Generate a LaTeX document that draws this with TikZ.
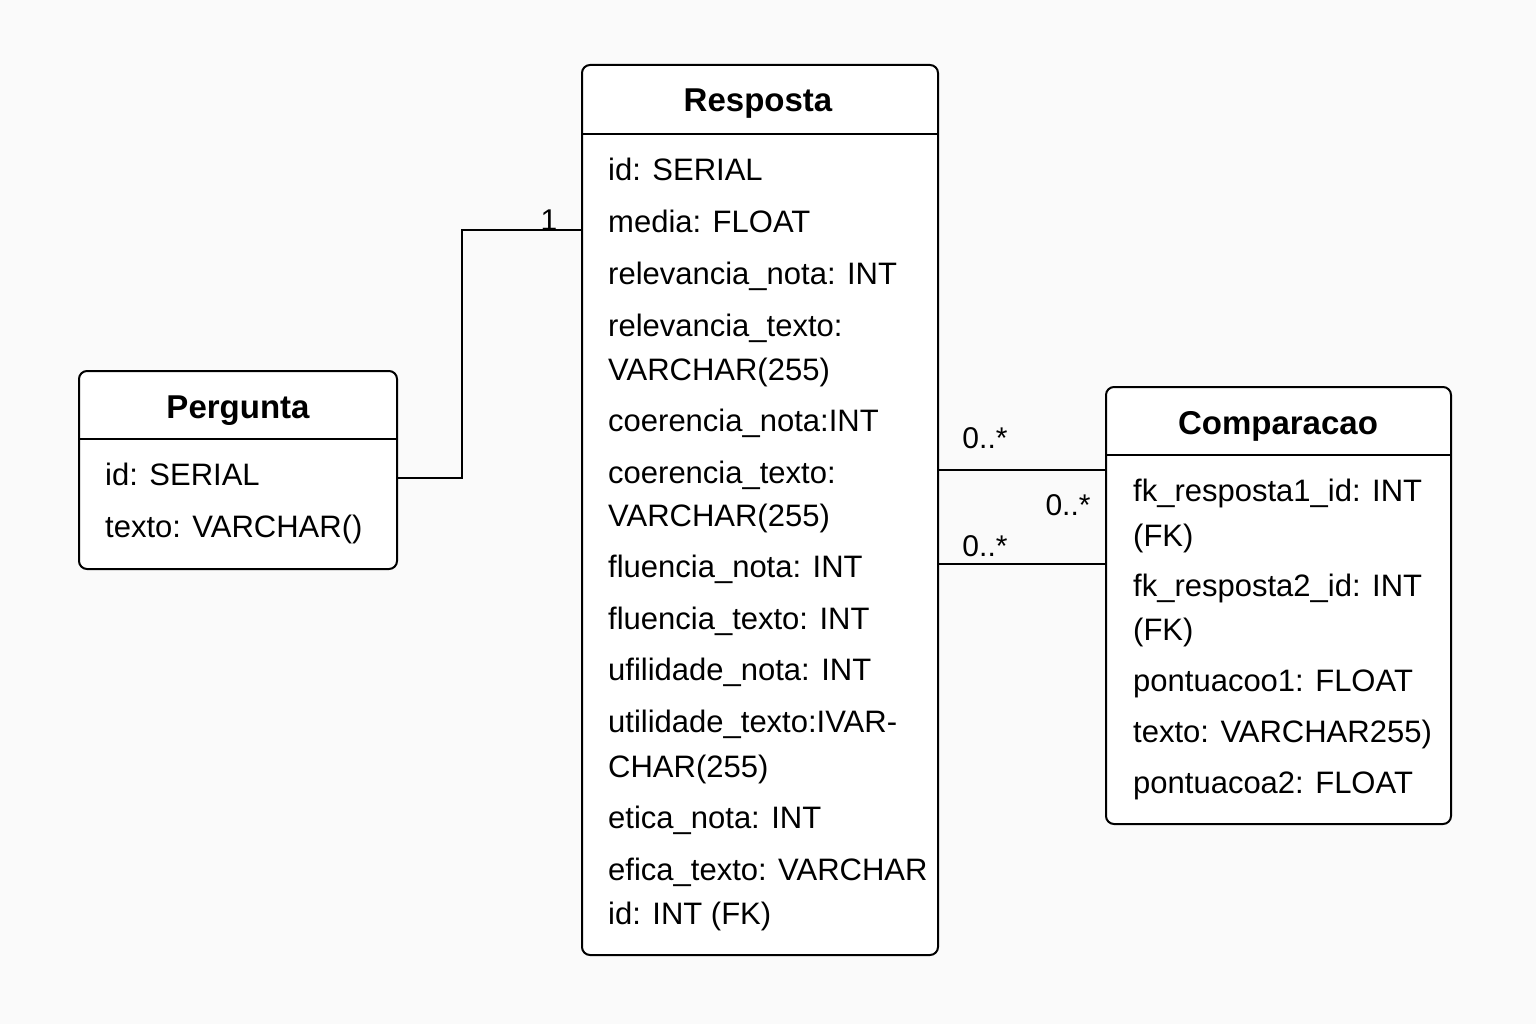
\documentclass[tikz,border=0pt]{standalone}
\usepackage{fontspec}
\setmainfont{Liberation Sans}
\definecolor{bg}{RGB}{250,250,250}
\begin{document}
\begin{tikzpicture}[x=1pt,y=-1pt,
  box/.style={draw=black,line width=2pt,rounded corners=8pt,fill=white,inner sep=0pt},
  attr/.style={anchor=base west,inner sep=0pt,font=\fontsize{31}{37}\selectfont},
  ttl/.style={anchor=base,inner sep=0pt,font=\fontsize{33}{39}\selectfont\bfseries},
  lbl/.style={anchor=base,inner sep=0pt,font=\fontsize{30}{36}\selectfont},
  conn/.style={line width=2pt}]
\useasboundingbox[fill=bg] (0,0) rectangle (1536,1024);
% boxes
\node[box,minimum width=356pt,minimum height=890pt] (resp) at (760,510) {};
\node[box,minimum width=318pt,minimum height=198pt] (perg) at (238,470) {};
\node[box,minimum width=345pt,minimum height=437pt] (comp) at (1278.5,605.5) {};
% header separators
\draw[conn] (resp.west |- 0,134) -- (resp.east |- 0,134);
\draw[conn] (perg.west |- 0,439) -- (perg.east |- 0,439);
\draw[conn] (comp.west |- 0,455) -- (comp.east |- 0,455);
% titles
\node[ttl] (tresp) at (758,112) {Resposta};
\node[ttl] (tperg) at (238,418) {Pergunta};
\node[ttl] (tcomp) at (1278,434) {Comparacao};
% Resposta attributes
\node[attr] (r1) at (608,181) {id: SERIAL};
\node[attr] (r2) at (608,233) {media: FLOAT};
\node[attr] (r3) at (608,284) {relevancia\_nota: INT};
\node[attr] (r4) at (608,336) {relevancia\_texto:};
\node[attr] (r5) at (608,380) {VARCHAR(255)};
\node[attr] (r6) at (608,431) {coerencia\_nota:INT};
\node[attr] (r7) at (608,483) {coerencia\_texto:};
\node[attr] (r8) at (608,526) {VARCHAR(255)};
\node[attr] (r9) at (608,577) {fluencia\_nota: INT};
\node[attr] (r10) at (608,629) {fluencia\_texto: INT};
\node[attr] (r11) at (608,680) {ufilidade\_nota: INT};
\node[attr] (r12) at (608,732) {utilidade\_texto:IVAR-};
\node[attr] (r13) at (608,777) {CHAR(255)};
\node[attr] (r14) at (608,828) {etica\_nota: INT};
\node[attr] (r15) at (608,880) {efica\_texto: VARCHAR};
\node[attr] (r16) at (608,924) {id: INT (FK)};
% Pergunta attributes
\node[attr] (p1) at (105,485) {id: SERIAL};
\node[attr] (p2) at (105,537) {texto: VARCHAR()};
% Comparacao attributes
\node[attr] (c1) at (1133,501) {fk\_resposta1\_id: INT};
\node[attr] (c2) at (1133,546) {(FK)};
\node[attr] (c3) at (1133,596) {fk\_resposta2\_id: INT};
\node[attr] (c4) at (1133,640) {(FK)};
\node[attr] (c5) at (1133,691) {pontuacoo1: FLOAT};
\node[attr] (c6) at (1133,742) {texto: VARCHAR255)};
\node[attr] (c7) at (1133,793) {pontuacoa2: FLOAT};
% connectors
\draw[conn] (perg.east |- 0,478) -| (462,230) -- (resp.west |- 0,230);
\draw[conn] (resp.east |- 0,470) -- (comp.west |- 0,470);
\draw[conn] (resp.east |- 0,564) -- (comp.west |- 0,564);
% multiplicities
\node[lbl] (m1) at (549,231) {1};
\node[lbl] (m2) at (985,448) {0..*};
\node[lbl] (m3) at (1068,515) {0..*};
\node[lbl] (m4) at (985,556) {0..*};
\end{tikzpicture}
\end{document}
